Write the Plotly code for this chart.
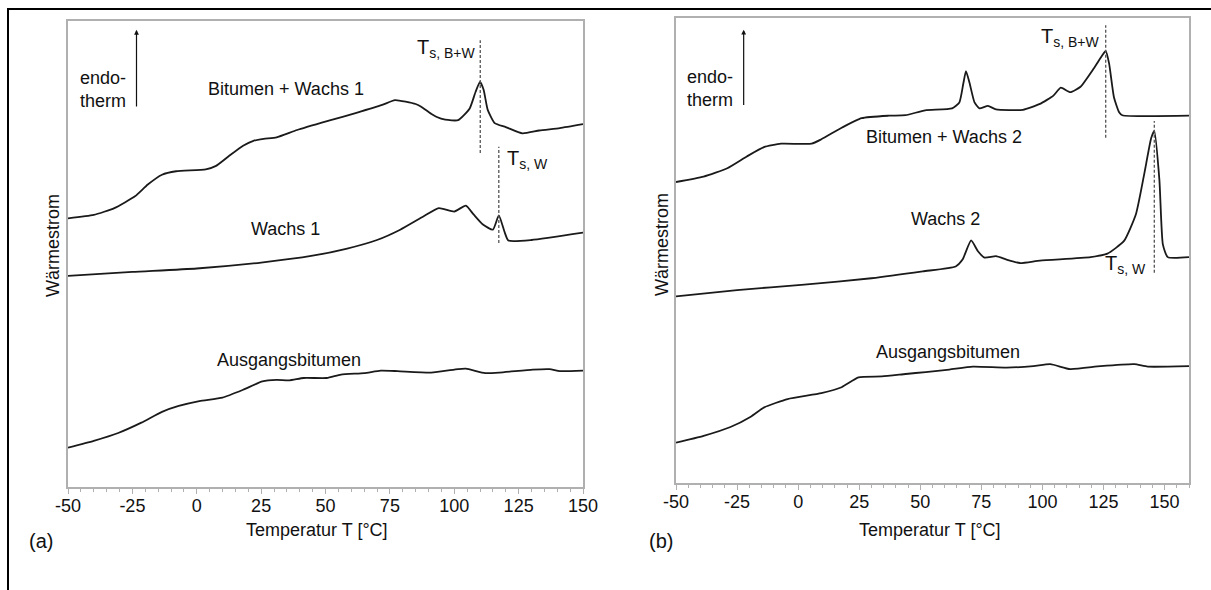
import plotly.graph_objects as go

# DSC-Kurven, Werte (Wärmestrom in willkürlichen Einheiten)

# --- (a) Wachs 1 ---
t_bw1 = [-50, -40, -32, -24, -19, -13.5, -8, 3.5, 7.5, 12.5, 18, 22, 26, 31, 39, 52, 62, 72, 77,
         85, 87, 91, 93, 96.5, 101.5, 106, 108.3, 110, 111.4, 113, 115.7, 120, 126.5, 133, 141, 150]
bw1 = [60.2, 60.9, 62.3, 64.7, 67.1, 69.1, 69.8, 70.2, 70.9, 72.9, 75.0, 76.0, 76.4, 76.7, 78.2, 80.2, 81.7, 83.3, 84.3,
       83.5, 83.0, 81.5, 80.9, 80.3, 80.2, 82.6, 86.0, 88.0, 86.4, 82.3, 79.6, 78.8, 77.5, 78.1, 78.6, 79.4]

t_w1 = [-50, -25, 0, 25, 45, 58, 70, 79, 88, 94, 100, 104.5, 107.5, 111, 115, 117.3, 119.5, 121, 130, 150]
w1 = [48.5, 49.3, 50.0, 51.2, 52.6, 54.0, 55.8, 57.9, 60.6, 62.3, 61.6, 62.8, 61.0, 59.0, 57.9, 60.8, 57.5, 55.7, 55.8, 57.3]

t_ab_a = [-50, -40, -30.5, -21.5, -13.5, -7, 1, 10, 18, 25.5, 31, 36, 41.5, 50.5, 56, 65, 71.5, 78, 91,
          101.5, 104.5, 112, 117.5, 130.5, 137, 141, 150]
ab_a = [13.5, 14.9, 16.5, 18.6, 20.8, 22.0, 23.0, 23.7, 25.3, 27.0, 27.3, 27.2, 27.7, 27.7, 28.4, 28.7, 29.2, 29.1, 28.8,
        29.5, 29.6, 28.7, 28.8, 29.4, 29.5, 29.1, 29.2]

# --- (b) Wachs 2 ---
t_bw2 = [-50, -38.7, -29, -21, -14, -7, 5.5, 9.5, 18, 26, 37, 44, 52, 63, 66, 67.6, 68.7, 70.1, 72.2, 74.2,
         77.7, 81, 92, 99, 104.5, 107.5, 111.4, 115.6, 121, 124.5, 125.9, 127.3, 129.3, 131.4, 132.7, 160]
bw2 = [67.6, 68.7, 70.4, 72.8, 74.7, 75.4, 75.4, 76.3, 78.7, 80.6, 81.1, 81.2, 82.2, 82.6, 83.8, 87.6, 90.2, 87.9, 83.8, 82.6,
       83.1, 82.4, 82.3, 83.5, 85.2, 86.8, 85.9, 87.0, 90.7, 93.4, 94.3, 91.7, 84.8, 81.8, 81.2, 81.1]

t_w2 = [-50, -25, 2.5, 30, 51, 64.5, 67.3, 70.8, 73.6, 76.3, 81, 85.3, 90.8, 99, 119.7, 126.6, 133.4, 138.3,
        141.7, 144.5, 145.8, 147.9, 149.3, 151.3, 160]
w2 = [44.3, 45.6, 46.7, 48.0, 49.4, 50.4, 51.8, 55.7, 53.5, 52.2, 52.5, 51.8, 51.1, 51.6, 52.3, 53.0, 55.6, 61.1,
      69.3, 76.5, 78.0, 67.9, 54.9, 52.3, 52.3]

t_ab_b = [-50, -38.7, -27.7, -19.4, -13.9, -4.3, 9.5, 17.8, 24.7, 34.3, 44, 52.2, 61.9, 71.5, 85.3, 96.3,
          103.2, 111.4, 123.8, 137.6, 143.1, 160]
ab_b = [14.5, 15.9, 17.7, 19.8, 21.7, 23.4, 24.6, 25.8, 27.8, 28.0, 28.5, 28.9, 29.4, 30.0, 29.8, 30.1,
        30.5, 29.5, 30.1, 30.5, 30.0, 30.1]

# Achsenbeschriftung (mit normalem Bindestrich wie im Original)
tick_vals = [-50, -25, 0, 25, 50, 75, 100, 125, 150]
tick_text = ["-50", "-25", "0", "25", "50", "75", "100", "125", "150"]

# Erweichungstemperaturen (gestrichelte Linien)
ts_a = {"bw": 110.1, "w": 117.3}
ts_b = {"bw": 125.9, "w": 145.8}

FONT = "Liberation Sans, Arial, sans-serif"
FS = 18
LINE = dict(color="#1a1a1a", width=1.8, shape="spline", smoothing=0.5)
FRAME = "#b0b0b0"

fig = go.Figure()

for t, v in [(t_bw1, bw1), (t_w1, w1), (t_ab_a, ab_a)]:
    fig.add_trace(go.Scatter(x=t, y=v, mode="lines", line=LINE, xaxis="x", yaxis="y",
                             showlegend=False, hoverinfo="skip"))
for t, v in [(t_bw2, bw2), (t_w2, w2), (t_ab_b, ab_b)]:
    fig.add_trace(go.Scatter(x=t, y=v, mode="lines", line=LINE, xaxis="x2", yaxis="y2",
                             showlegend=False, hoverinfo="skip"))

W, H = 1211, 590


def xaxis(dom, rng):
    return dict(domain=dom, range=rng, tickmode="array", tickvals=tick_vals, ticktext=tick_text,
                ticks="outside", ticklen=5, tickcolor=FRAME, tickwidth=1, ticklabelstandoff=-3,
                minor=dict(tick0=-50, dtick=5, ticks="outside", ticklen=3, tickcolor=FRAME),
                showline=True, linecolor=FRAME, linewidth=1.5, mirror=True,
                showgrid=False, zeroline=False, automargin=False,
                tickfont=dict(family=FONT, size=FS, color="#111"))


def yaxis(dom, rng, anchor):
    return dict(domain=dom, range=rng, anchor=anchor, showticklabels=False, ticks="",
                showline=True, linecolor=FRAME, linewidth=1.5, mirror=True,
                showgrid=False, zeroline=False, automargin=False)


fig.update_layout(
    template="none",
    width=W, height=H, autosize=False,
    margin=dict(l=0, r=0, t=0, b=0, pad=0, autoexpand=False),
    paper_bgcolor="white", plot_bgcolor="white",
    xaxis=xaxis([68 / W, 583 / W], [-50, 150]) | dict(anchor="y"),
    yaxis=yaxis([1 - 487 / H, 1 - 21 / H], [5.5, 100.4], "x"),
    xaxis2=xaxis([676 / W, 1189 / W], [-50, 160]) | dict(anchor="y2"),
    yaxis2=yaxis([1 - 483 / H, 1 - 18 / H], [6.3, 101.0], "x2"),
    font=dict(family=FONT, color="#111"),
)

# gestrichelte Linien für T_s
dash = dict(color="#555", width=1.3, dash="3px,2px")
for xr, yr, x, y0, y1 in [("x", "y", ts_a["bw"], 73.5, 96.5), ("x", "y", ts_a["w"], 55.2, 74.8),
                          ("x2", "y2", ts_b["bw"], 76.6, 99.5), ("x2", "y2", ts_b["w"], 49.1, 80.0)]:
    fig.add_shape(type="line", xref=xr, yref=yr, x0=x, x1=x, y0=y0, y1=y1, line=dash)

# äußerer Rahmen
fig.add_shape(type="rect", xref="paper", yref="paper", x0=8 / W, x1=1.01, y0=-0.01, y1=1 - 9 / H,
              line=dict(color="black", width=2), layer="above")


def label(text, x, y, xr, yr, size=FS, **kw):
    kw.setdefault("xanchor", "center")
    kw.setdefault("yanchor", "middle")
    fig.add_annotation(text=text, x=x, y=y, xref=xr, yref=yr, showarrow=False,
                       font=dict(family=FONT, size=size, color="#111"), **kw)


# Panel (a)
label("Bitumen + Wachs 1", 34.7, 86.6, "x", "y")
label("Wachs 1", 34.5, 58.1, "x", "y")
label("Ausgangsbitumen", 36, 31.4, "x", "y")
label("T<sub>s, B+W</sub>", 109.2, 94.9, "x", "y", size=20, xanchor="right")
label("T<sub>s, W</sub>", 119.7, 72.1, "x", "y", size=20, xanchor="left")
label("endo-<br>therm", -46.1, 86.4, "x", "y", xanchor="left", align="left")
fig.add_annotation(x=-23.4, y=98.6, ax=-23.4, ay=82.7, xref="x", yref="y", axref="x", ayref="y",
                   text="", showarrow=True, arrowhead=2, arrowsize=0.8, arrowwidth=1.2, arrowcolor="#111")

# Panel (b)
label("Bitumen + Wachs 2", 59.7, 76.8, "x2", "y2")
label("Wachs 2", 60.5, 60.0, "x2", "y2")
label("Ausgangsbitumen", 61.3, 32.9, "x2", "y2")
label("T<sub>s, B+W</sub>", 124.4, 97.1, "x2", "y2", size=20, xanchor="right")
label("T<sub>s, W</sub>", 143.4, 50.7, "x2", "y2", size=20, xanchor="right")
label("endo-<br>therm", -46.3, 86.6, "x2", "y2", xanchor="left", align="left")
fig.add_annotation(x=-22.3, y=98.6, ax=-22.3, ay=83.0, xref="x2", yref="y2", axref="x2", ayref="y2",
                   text="", showarrow=True, arrowhead=2, arrowsize=0.8, arrowwidth=1.2, arrowcolor="#111")

# Achsentitel und Panelbuchstaben
for cx in (317, 930):
    label("Temperatur T [°C]", cx / W, 1 - 530 / H, "paper", "paper")
for cx in (53, 662):
    label("Wärmestrom", cx / W, 1 - 245 / H, "paper", "paper", textangle=-90)
label("(a)", 41 / W, 1 - 541 / H, "paper", "paper", size=20)
label("(b)", 661 / W, 1 - 541 / H, "paper", "paper", size=20)

# Seitenrand des Browsers entfernen, damit die Figur bei (0, 0) beginnt
fig.write_html("out.html", config={"displayModeBar": False},
               post_script="document.body.style.margin = '0';")
